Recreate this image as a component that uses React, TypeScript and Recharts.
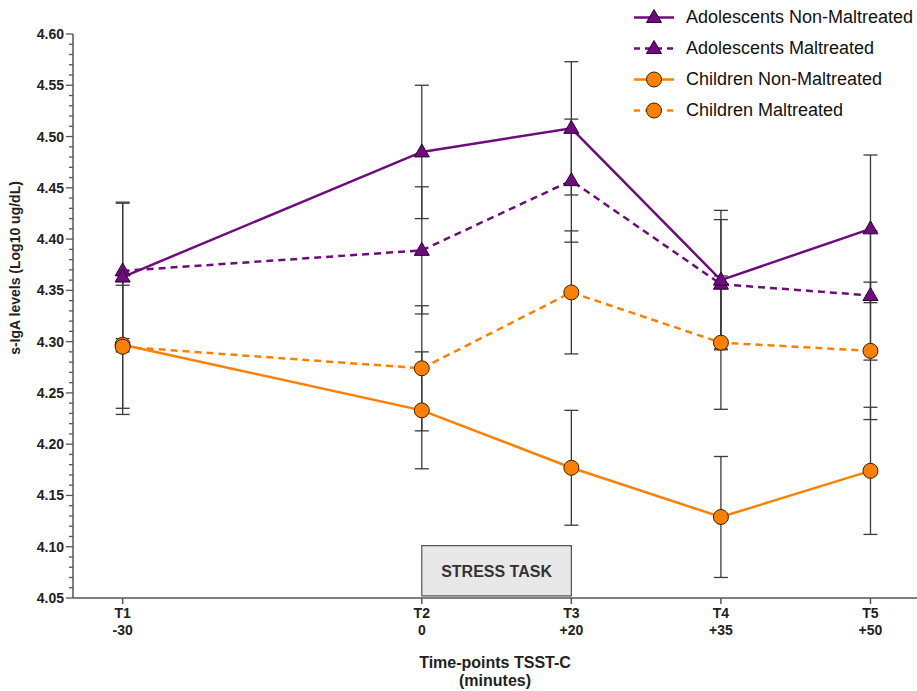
import React from 'react';
import { LineChart, Line, XAxis, YAxis, ErrorBar, ReferenceArea, Label } from 'recharts';

// time-point positions on the axis (T2 is spaced two slots from T1)
const timeIndex = [1, 3, 4, 5, 6];
const timeLabels = ['T1', 'T2', 'T3', 'T4', 'T5'];
const minuteLabels = ['-30', '0', '+20', '+35', '+50'];

const adolNonMal = [4.363, 4.485, 4.508, 4.36, 4.41];
const adolNonMalErr = [0.073, 0.065, 0.065, 0.068, 0.072];
const adolMal = [4.369, 4.389, 4.457, 4.356, 4.345];
const adolMalErr = [0.066, 0.062, 0.06, 0.063, 0.063];
const childNonMal = [4.297, 4.233, 4.177, 4.129, 4.174];
const childNonMalErr = [0.068, 0.057, 0.056, 0.059, 0.062];
const childMal = [4.295, 4.274, 4.348, 4.299, 4.291];
const childMalErr = [0.06, 0.061, 0.06, 0.065, 0.067];

const yMajorTicks = [4.05, 4.1, 4.15, 4.2, 4.25, 4.3, 4.35, 4.4, 4.45, 4.5, 4.55, 4.6];

const PURPLE = '#6e0c7d';
const ORANGE = '#ff8000';
const FONT = 'Arial, "Liberation Sans", sans-serif';

const data = timeIndex.map((t, i) => ({
  t,
  anm: adolNonMal[i],
  anmErr: adolNonMalErr[i],
  am: adolMal[i],
  amErr: adolMalErr[i],
  cnm: childNonMal[i],
  cnmErr: childNonMalErr[i],
  cm: childMal[i],
  cmErr: childMalErr[i],
}));

// minor ticks every 0.01 between the majors
const yTicks: number[] = [];
yMajorTicks.forEach((v, i) => {
  yTicks.push(v);
  if (i < yMajorTicks.length - 1) {
    for (let k = 1; k < 5; k++) yTicks.push(Math.round((v + k * 0.01) * 1000) / 1000);
  }
});

const triangle = (cx: number, cy: number) =>
  `${cx},${cy - 8} ${cx - 7.5},${cy + 5} ${cx + 7.5},${cy + 5}`;

const TriangleDot = (props: any) => {
  const { cx, cy, index } = props;
  if (cx == null || cy == null) return <g key={`tri-${index}`} />;
  return <polygon key={`tri-${index}`} points={triangle(cx, cy)} fill={PURPLE} stroke="#2e0034" strokeWidth={1} />;
};

const CircleDot = (props: any) => {
  const { cx, cy, index } = props;
  if (cx == null || cy == null) return <g key={`cir-${index}`} />;
  return <circle key={`cir-${index}`} cx={cx} cy={cy} r={7.5} fill={ORANGE} stroke="#3a2000" strokeWidth={1} />;
};

const YTick = (props: any) => {
  const { x, y, payload } = props;
  const v = payload.value;
  const major = Math.abs(v * 20 - Math.round(v * 20)) < 1e-6;
  return (
    <g>
      <line x1={x - (major ? 7 : 4)} x2={x} y1={y} y2={y} stroke="#555" strokeWidth={1.3} />
      {major && (
        <text x={x - 9} y={y} dy={5} textAnchor="end" fontSize={14} fontWeight="bold" fill="#222" fontFamily={FONT}>
          {v.toFixed(2)}
        </text>
      )}
    </g>
  );
};

const XTick = (props: any) => {
  const { x, y, payload } = props;
  const i = timeIndex.indexOf(payload.value);
  return (
    <g>
      <text x={x} y={y + 12} textAnchor="middle" fontSize={14} fontWeight="bold" fill="#222" fontFamily={FONT}>
        {timeLabels[i]}
      </text>
      <text x={x} y={y + 29} textAnchor="middle" fontSize={14} fontWeight="bold" fill="#222" fontFamily={FONT}>
        {minuteLabels[i]}
      </text>
    </g>
  );
};

const legendItems = [
  { name: 'Adolescents Non-Maltreated', color: PURPLE, dash: undefined, shape: 'tri' },
  { name: 'Adolescents Maltreated', color: PURPLE, dash: '6 5', shape: 'tri' },
  { name: 'Children Non-Maltreated', color: ORANGE, dash: undefined, shape: 'cir' },
  { name: 'Children Maltreated', color: ORANGE, dash: '6 5', shape: 'cir' },
];

const LegendBox = () => (
  <div style={{ position: 'absolute', left: 630, top: 2, fontFamily: FONT }}>
    {legendItems.map((it) => (
      <div key={it.name} style={{ display: 'flex', alignItems: 'center', height: 31 }}>
        <svg width={50} height={31}>
          <line x1={4} x2={44} y1={15.5} y2={15.5} stroke={it.color} strokeWidth={2.5} strokeDasharray={it.dash} />
          {it.shape === 'tri' ? (
            <polygon points={triangle(24, 15.5)} fill={PURPLE} stroke="#2e0034" strokeWidth={1} />
          ) : (
            <circle cx={24} cy={15.5} r={7.5} fill={ORANGE} stroke="#3a2000" strokeWidth={1} />
          )}
        </svg>
        <span style={{ marginLeft: 6, fontSize: 18, color: '#111', whiteSpace: 'nowrap' }}>{it.name}</span>
      </div>
    ))}
  </div>
);

export default function App() {
  return (
    <div style={{ position: 'absolute', left: 0, top: 0, width: 917, height: 691, background: '#fff', overflow: 'hidden' }}>
      <LineChart width={917} height={691} data={data} margin={{ top: 34, right: 0, bottom: 0, left: 0 }}>
        <XAxis
          dataKey="t"
          type="number"
          domain={[0.668, 6.311]}
          ticks={timeIndex}
          interval={0}
          allowDataOverflow
          height={93}
          tickSize={6}
          tickMargin={2}
          stroke="#555"
          strokeWidth={1.5}
          tick={<XTick />}
        >
          <Label
            content={(p: any) => {
              const vb = p.viewBox;
              const cx = vb.x + vb.width / 2;
              return (
                <g fontFamily={FONT} fontSize={16} fontWeight="bold" fill="#222">
                  <text x={cx} y={vb.y + 70} textAnchor="middle">Time-points TSST-C</text>
                  <text x={cx} y={vb.y + 88} textAnchor="middle">(minutes)</text>
                </g>
              );
            }}
          />
        </XAxis>
        <YAxis
          type="number"
          domain={[4.05, 4.6]}
          ticks={yTicks}
          interval={0}
          width={73}
          tickSize={0}
          tickMargin={0}
          tickLine={false}
          stroke="#555"
          strokeWidth={1.5}
          tick={<YTick />}
        >
          <Label
            content={() => (
              <text
                x={15}
                y={268}
                transform="rotate(-90, 15, 268)"
                textAnchor="middle"
                dominantBaseline="central"
                fontFamily={FONT}
                fontSize={14}
                fontWeight="bold"
                fill="#222"
              >
                s-IgA levels (Log10 ug/dL)
              </text>
            )}
          />
        </YAxis>
        <ReferenceArea
          x1={3}
          x2={4}
          y1={4.052}
          y2={4.101}
          fill="#e8e8e8"
          fillOpacity={1}
          stroke="#555"
          strokeWidth={1.2}
          label={{ value: 'STRESS TASK', position: 'center', fill: '#333', fontSize: 16, fontWeight: 'bold', fontFamily: FONT }}
        />
        <Line dataKey="cnm" name="Children Non-Maltreated" stroke={ORANGE} strokeWidth={2.5} dot={CircleDot} activeDot={false} isAnimationActive={false}>
          <ErrorBar dataKey="cnmErr" width={7} stroke="#3a3a3a" strokeWidth={1.3} direction="y" />
        </Line>
        <Line dataKey="cm" name="Children Maltreated" stroke={ORANGE} strokeWidth={2.5} strokeDasharray="7 5" dot={CircleDot} activeDot={false} isAnimationActive={false}>
          <ErrorBar dataKey="cmErr" width={7} stroke="#3a3a3a" strokeWidth={1.3} direction="y" />
        </Line>
        <Line dataKey="am" name="Adolescents Maltreated" stroke={PURPLE} strokeWidth={2.5} strokeDasharray="7 5" dot={TriangleDot} activeDot={false} isAnimationActive={false}>
          <ErrorBar dataKey="amErr" width={7} stroke="#3a3a3a" strokeWidth={1.3} direction="y" />
        </Line>
        <Line dataKey="anm" name="Adolescents Non-Maltreated" stroke={PURPLE} strokeWidth={2.5} dot={TriangleDot} activeDot={false} isAnimationActive={false}>
          <ErrorBar dataKey="anmErr" width={7} stroke="#3a3a3a" strokeWidth={1.3} direction="y" />
        </Line>
      </LineChart>
      <LegendBox />
    </div>
  );
}
